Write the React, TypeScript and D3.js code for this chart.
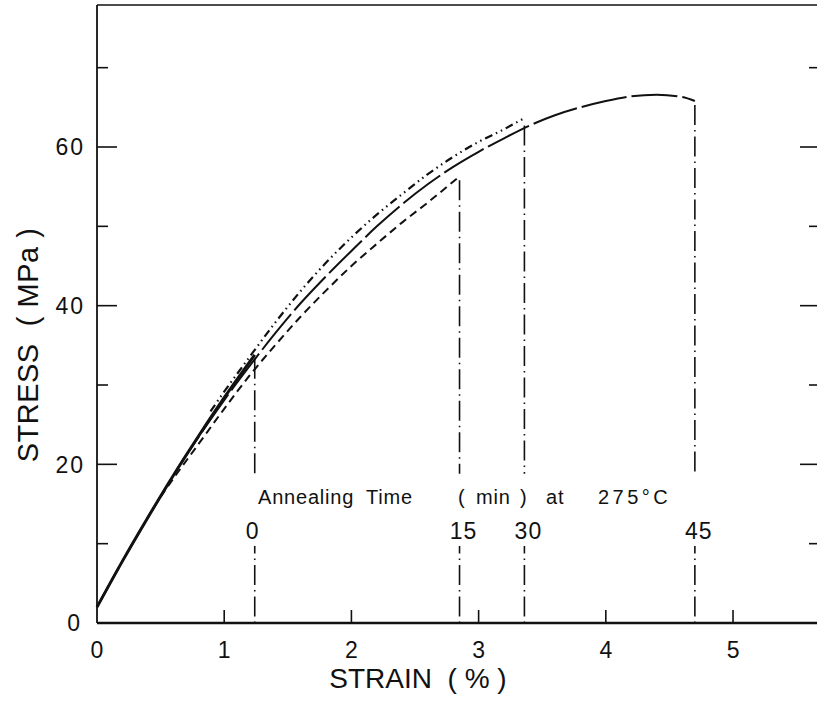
import React from 'react';
import * as d3 from 'd3';

// Curves: strain (%) and stress (MPa) for each annealing time
const strain0 = [0, 0.2, 0.4, 0.6, 0.8, 1.0, 1.24];
const stress0 = [2, 7.8, 13.3, 18.6, 23.6, 28.4, 33.8];

const strain15 = [0.5, 0.6, 0.8, 1.0, 1.2, 1.4, 1.6, 1.8, 2.0, 2.2, 2.4, 2.6, 2.85];
const stress15 = [15.9, 18.2, 22.6, 27.0, 31.2, 35.0, 38.6, 41.9, 45.0, 47.8, 50.5, 53.0, 56.3];

const strain30 = [0.9, 1.0, 1.2, 1.4, 1.6, 1.8, 2.0, 2.2, 2.4, 2.6, 2.8, 3.0, 3.2, 3.36];
const stress30 = [26.3, 28.6, 33.0, 37.3, 41.3, 44.9, 48.1, 51.0, 53.6, 56.1, 58.3, 60.2, 61.8, 63.2];

const strain45 = [0, 0.2, 0.4, 0.6, 0.8, 1.0, 1.2, 1.4, 1.6, 1.8, 2.0, 2.2, 2.4, 2.6, 2.8, 3.0, 3.2, 3.4, 3.6, 3.8, 4.0, 4.2, 4.4, 4.6, 4.7];
const stress45 = [2, 7.8, 13.3, 18.6, 23.5, 28.1, 32.4, 36.5, 40.3, 43.7, 46.9, 50.0, 52.8, 55.3, 57.5, 59.4, 61.1, 62.7, 64.0, 65.0, 65.8, 66.4, 66.6, 66.3, 65.8];

const annealLabels = ['0', '15', '30', '45'];
const annealStrain = [1.24, 2.85, 3.36, 4.7];
const annealStress = [33.8, 56.3, 63.2, 65.8];

const annotationWords = ['Annealing', 'Time', '(', 'min', ')', 'at', '275°C'];
const annotationOffsets = [0, 108, 200, 218, 262, 288, 340];

const xTicks = [0, 1, 2, 3, 4, 5];
const yMajor = [0, 20, 40, 60];
const yMinor = [10, 30, 50, 70];

const W = 817;
const H = 702;

export default function App() {
  const x = d3.scaleLinear().domain([0, 5.668]).range([97, 818]);
  const y = d3.scaleLinear().domain([0, 77.9]).range([623, 5]);

  const line = d3
    .line<[number, number]>()
    .x((d) => x(d[0]))
    .y((d) => y(d[1]))
    .curve(d3.curveMonotoneX);

  const zip = (a: number[], b: number[]) => a.map((v, i) => [v, b[i]] as [number, number]);

  const font = "'Liberation Sans', 'DejaVu Sans', sans-serif";
  const ink = '#111';

  const upperEnd = 18.8; // stress where the vertical markers stop above the annotation text
  const lowerStart = 9.7; // stress where they resume below the labels

  return (
    <svg
      width={W}
      height={H}
      style={{ position: 'absolute', left: 0, top: 0, background: '#fff' }}
      fontFamily={font}
    >
      {/* frame */}
      <line x1={x(0)} x2={x(0)} y1={y(77.9)} y2={y(0)} stroke={ink} strokeWidth={1.8} />
      <line x1={x(0)} x2={818} y1={y(0)} y2={y(0)} stroke={ink} strokeWidth={2.4} />
      <line x1={x(0)} x2={818} y1={y(77.9)} y2={y(77.9)} stroke={ink} strokeWidth={1.5} />

      {/* x ticks */}
      {xTicks.map((t) => (
        <g key={'xt' + t}>
          {t > 0 && <line x1={x(t)} x2={x(t)} y1={y(0)} y2={y(0) - 13} stroke={ink} strokeWidth={1.6} />}
          <text x={x(t)} y={y(0) + 35} textAnchor="middle" fontSize={23} fill={ink} fontWeight={300}>
            {t}
          </text>
        </g>
      ))}

      {/* y ticks left & right */}
      {yMajor.map((t) => (
        <g key={'ym' + t}>
          {t > 0 && <line x1={x(0)} x2={x(0) + 20} y1={y(t)} y2={y(t)} stroke={ink} strokeWidth={1.6} />}
          {t > 0 && <line x1={817} x2={800} y1={y(t)} y2={y(t)} stroke={ink} strokeWidth={1.6} />}
          <text x={t === 0 ? 82 : 85} y={y(t)} dy="0.36em" textAnchor="end" fontSize={23} fill={ink} letterSpacing={2} fontWeight={300}>
            {t}
          </text>
        </g>
      ))}
      {yMinor.map((t) => (
        <g key={'yn' + t}>
          <line x1={x(0)} x2={x(0) + 11} y1={y(t)} y2={y(t)} stroke={ink} strokeWidth={1.6} />
          <line x1={817} x2={809} y1={y(t)} y2={y(t)} stroke={ink} strokeWidth={1.6} />
        </g>
      ))}

      {/* curves */}
      <path d={line(zip(strain45, stress45)) || ''} fill="none" stroke={ink} strokeWidth={2} strokeDasharray="46,5" />
      <path d={line(zip(strain0, stress0)) || ''} fill="none" stroke={ink} strokeWidth={3} />
      <path d={line(zip(strain15, stress15)) || ''} fill="none" stroke={ink} strokeWidth={2} strokeDasharray="8,5" />
      <path
        d={line(zip(strain30, stress30)) || ''}
        fill="none"
        stroke={ink}
        strokeWidth={2.2}
        strokeDasharray="8,4,1.5,4,1.5,4"
        transform="translate(-1,-3)"
      />

      {/* annealing markers */}
      {annealStrain.map((s, i) => (
        <g key={'an' + i}>
          <line
            x1={x(s)}
            x2={x(s)}
            y1={y(annealStress[i]) + 4}
            y2={y(upperEnd)}
            stroke={ink}
            strokeWidth={1.6}
            strokeDasharray="20,5,1.5,5"
          />
          <line
            x1={x(s)}
            x2={x(s)}
            y1={y(0)}
            y2={y(lowerStart)}
            stroke={ink}
            strokeWidth={1.6}
            strokeDasharray="1.5,5,20,5"
          />
          <text x={x(s) + (i === 0 ? -2 : 4)} y={y(lowerStart) - 7} textAnchor="middle" fontSize={23} fill={ink} fontWeight={300} letterSpacing={1}>
            {annealLabels[i]}
          </text>
        </g>
      ))}

      <text y={y(upperEnd) + 30} fontSize={20} fill={ink} fontWeight={300} letterSpacing={0.8}>
        {annotationWords.map((w, i) => (
          <tspan key={'w' + i} x={258 + annotationOffsets[i]} letterSpacing={i === 6 ? 3.5 : 0.8}>
            {w}
          </tspan>
        ))}
      </text>

      {/* axis titles */}
      <text x={418} y={688} textAnchor="middle" fontSize={28} fill={ink} style={{ whiteSpace: 'pre' }}>
        {'STRAIN  ( % )'}
      </text>
      <text
        transform={`translate(38, ${345}) rotate(-90)`}
        textAnchor="middle"
        fontSize={29}
        fill={ink}
        letterSpacing={0.5}
        style={{ whiteSpace: 'pre' }}
      >
        {'STRESS  ( MPa )'}
      </text>
    </svg>
  );
}
